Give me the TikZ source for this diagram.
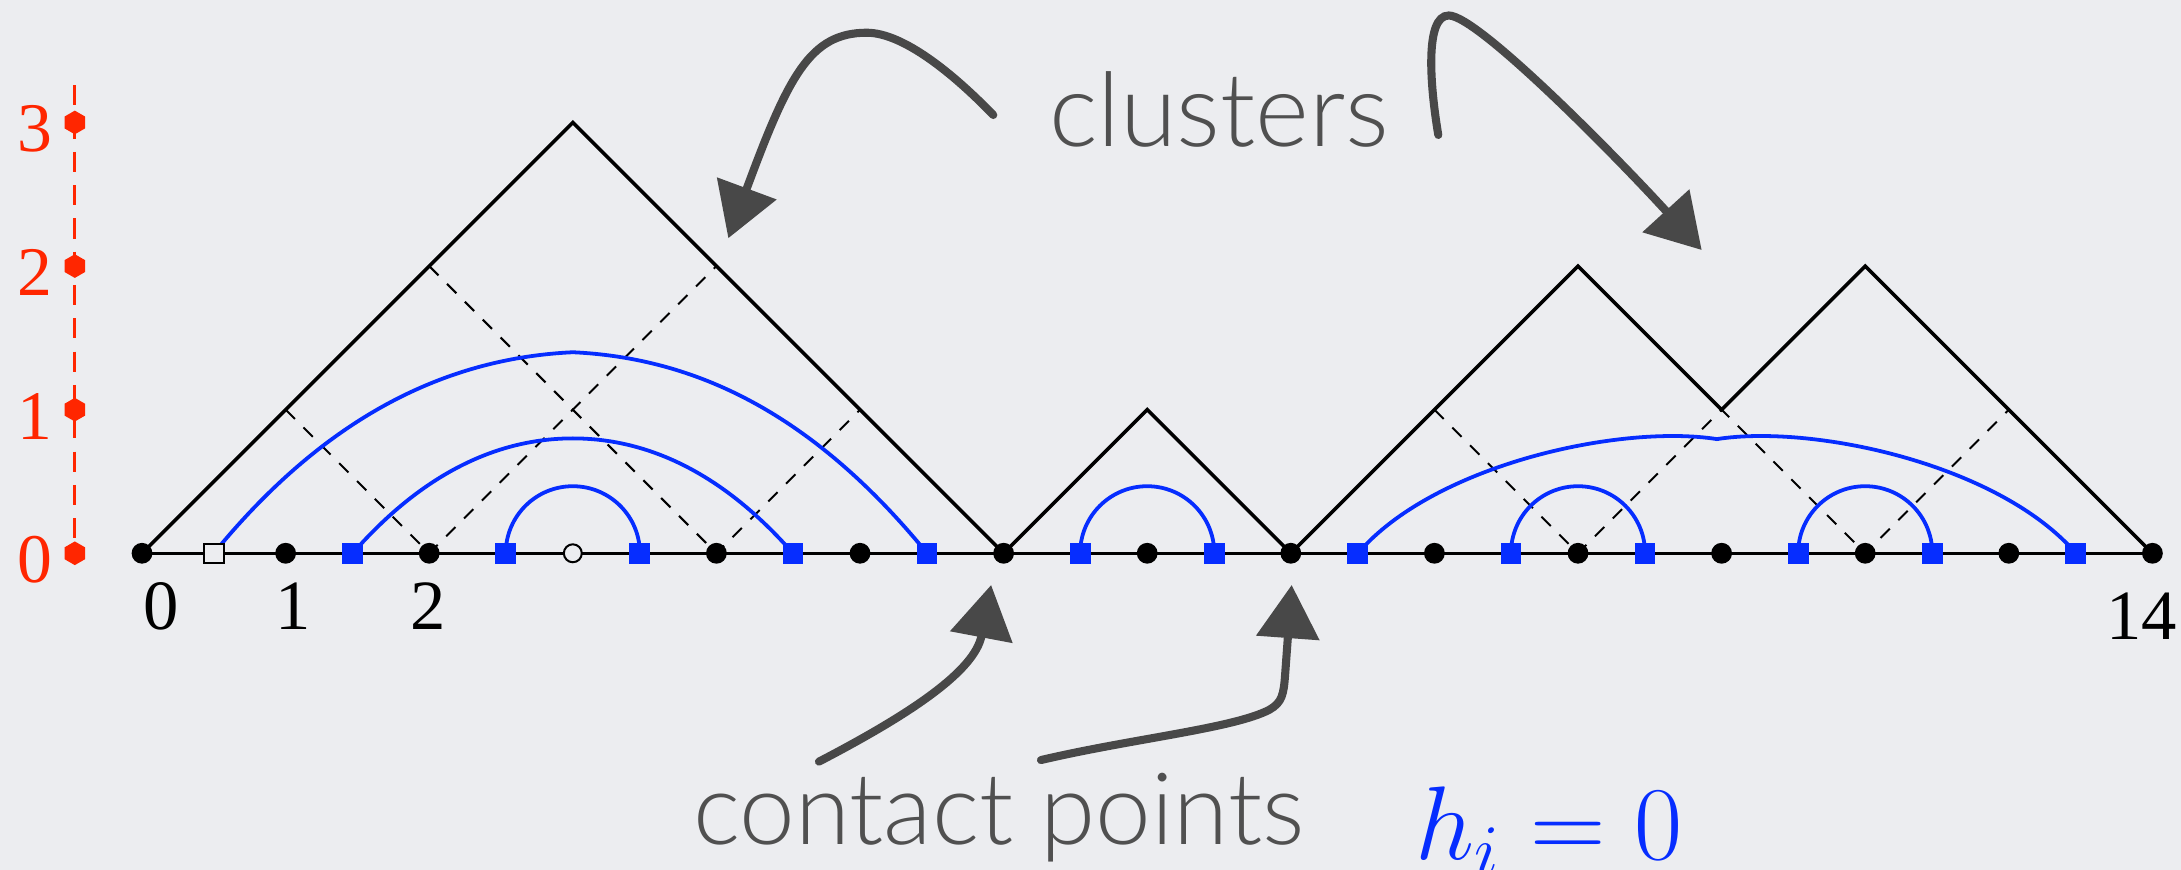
\documentclass[tikz,border=0pt]{standalone}
\usepackage{fontspec}
\newfontfamily\lato{Lato Light}
\newfontfamily\tms{Liberation Serif}
\usetikzlibrary{arrows.meta,shapes.geometric}
\definecolor{bg}{RGB}{236,237,240}
\definecolor{myred}{RGB}{255,38,0}
\definecolor{myblue}{RGB}{6,45,255}
\definecolor{grtext}{RGB}{80,80,80}
\definecolor{grarrow}{RGB}{72,72,72}
\begin{document}
\begin{tikzpicture}[x=1cm,y=1cm,
  dotn/.style={circle,fill=black,inner sep=0pt,minimum size=0.145cm},
  odot/.style={circle,draw=black,line width=0.4pt,fill=bg,inner sep=0pt,minimum size=0.125cm},
  bsq/.style={rectangle,fill=myblue,inner sep=0pt,minimum size=0.145cm},
  osq/.style={rectangle,draw=black,line width=0.4pt,fill=bg,inner sep=0pt,minimum size=0.135cm},
  hexn/.style={regular polygon,regular polygon sides=6,rotate=30,fill=myred,inner sep=0pt,minimum size=0.165cm},
  mount/.style={line width=0.7pt,line join=miter},
  subl/.style={line width=0.4pt,dash pattern=on 2.6pt off 2.4pt},
  arcb/.style={myblue,line width=0.75pt},
  garrow/.style={grarrow,line width=1.6pt,line cap=round,-{Triangle[length=0.37cm,width=0.43cm]}},
  rlab/.style={text=myred,inner sep=0pt,anchor=base east,font=\tms\fontsize{13.8}{16}\selectfont},
  blab/.style={text=black,inner sep=0pt,anchor=base,font=\tms\fontsize{14}{16}\selectfont},
  gtext/.style={text=grtext,inner sep=0pt,anchor=base,font=\lato\fontsize{19.8}{22}\selectfont}
]
\fill[bg] (-0.989,-2.205) rectangle (14.199,3.853);
\useasboundingbox (-0.989,-2.205) rectangle (14.199,3.853);

% coordinates on the baseline
\foreach \i in {0,...,14} \coordinate (x\i) at (\i,0);
\coordinate (t3) at (3,3);
\coordinate (t7) at (7,1);
\coordinate (t10) at (10,2);
\coordinate (v11) at (11,1);
\coordinate (t12) at (12,2);
\coordinate (l1) at (1,1);
\coordinate (l2) at (2,2);
\coordinate (r4) at (4,2);
\coordinate (r5) at (5,1);
\coordinate (l9) at (9,1);
\coordinate (r13) at (13,1);

\coordinate (s05) at (0.5,0);
\coordinate (s1) at (1.467,0);
\coordinate (s2) at (2.533,0);
\coordinate (s3) at (3.467,0);
\coordinate (s4) at (4.533,0);
\coordinate (s5) at (5.467,0);
\coordinate (s6) at (6.533,0);
\coordinate (s7) at (7.467,0);
\coordinate (s8) at (8.467,0);
\coordinate (s9) at (9.533,0);
\coordinate (s10) at (10.467,0);
\coordinate (s11) at (11.533,0);
\coordinate (s12) at (12.467,0);
\coordinate (s13) at (13.467,0);

\coordinate (a1top) at (3,1.40);
\coordinate (a2top) at (3,0.80);
\coordinate (aRtop) at (10.967,0.795);

% baseline
\draw[line width=0.5pt] (x0) -- (x14);

% dashed sub-paths
\draw[subl] (l1) -- (x2) -- (r4);
\draw[subl] (l2) -- (x4) -- (r5);
\draw[subl] (l9) -- (x10) -- (v11) -- (x12) -- (r13);

% mountain
\draw[mount] (x0) -- (t3) -- (x6) -- (t7) -- (x8) -- (t10) -- (v11) -- (t12) -- (x14);

% blue arcs
\draw[arcb] (s05) .. controls (1.30,0.98) and (2.15,1.36) .. (a1top)
               .. controls (3.85,1.36) and (4.667,0.98) .. (s5);
\draw[arcb] (s1) .. controls (1.957,0.56) and (2.48,0.80) .. (a2top)
               .. controls (3.52,0.80) and (4.043,0.56) .. (s4);
\draw[arcb] (s2) arc[start angle=180,end angle=0,radius=0.467];
\draw[arcb] (s6) arc[start angle=180,end angle=0,radius=0.467];
\draw[arcb] (s9) arc[start angle=180,end angle=0,radius=0.467];
\draw[arcb] (s11) arc[start angle=180,end angle=0,radius=0.467];
\draw[arcb] (s8) .. controls (9.0,0.62) and (10.3,0.90) .. (aRtop)
               .. controls (11.634,0.90) and (12.934,0.62) .. (s13);

% points
\foreach \i in {0,1,2,4,5,6,7,8,9,10,11,12,13,14} \node[dotn] (p\i) at (x\i) {};
\node[odot] (p3) at (x3) {};
\node[osq] (q05) at (s05) {};
\foreach \n in {1,2,3,4,5,6,7,8,9,10,11,12,13} \node[bsq] (q\n) at (s\n) {};

% black labels
\node[blab] (n0) at (0.13,-0.534) {0};
\node[blab] (n1) at (1.056,-0.534) {1};
\node[blab] (n2) at (1.996,-0.534) {2};
\node[blab] (n14) at (13.925,-0.603) {14};

% red axis
\coordinate (h0) at (-0.468,0);
\coordinate (htop) at (-0.468,3.26);
\draw[myred,line width=0.6pt,dash pattern=on 4pt off 2.6pt] (htop) -- (h0);
\foreach \k in {0,1,2,3} {
  \node[hexn] (hx\k) at (-0.468,\k) {};
  \node[rlab] (hl\k) at (-0.615,\k-0.205) {\k};
}

% texts
\node[gtext,font=\lato\fontsize{20.4}{22}\selectfont] (clus) at (7.50,2.832) {clusters};
\node[gtext] (cont) at (5.968,-2.03) {contact points};
\node[inner sep=0pt,anchor=base west,text=myblue,font=\fontsize{19.7}{22}\selectfont] (hz) at (8.862,-2.135) {$h_i=0$};

% hand-drawn arrows
\coordinate (a1s) at (5.928,3.052);
\coordinate (a1m) at (5.047,3.625);
\coordinate (a1e) at (4.083,2.194);
\coordinate (a2s) at (9.027,2.913);
\coordinate (a2m) at (9.10,3.745);
\coordinate (a2e) at (10.861,2.112);
\coordinate (a3s) at (4.714,-1.451);
\coordinate (a3e) at (5.913,-0.221);
\coordinate (a4s) at (6.26,-1.44);
\coordinate (a4b) at (7.85,-1.09);
\coordinate (a4m) at (7.96,-0.85);
\coordinate (a4e) at (8.006,-0.221);
\draw[garrow] (a1s) .. controls (5.65,3.34) and (5.3,3.625) .. (a1m)
                    .. controls (4.65,3.625) and (4.50,3.32) .. (a1e);
\draw[garrow] (a2s) .. controls (8.97,3.25) and (8.93,3.745) .. (a2m)
                    .. controls (9.30,3.745) and (10.26,2.77) .. (a2e);
\draw[garrow] (a3s) .. controls (5.35,-1.12) and (5.80,-0.82) .. (a3e);
\draw[garrow] (a4s) .. controls (6.9,-1.29) and (7.6,-1.22) .. (a4b)
                    .. controls (7.94,-1.04) and (7.95,-0.98) .. (a4m) -- (a4e);
\end{tikzpicture}
\end{document}
